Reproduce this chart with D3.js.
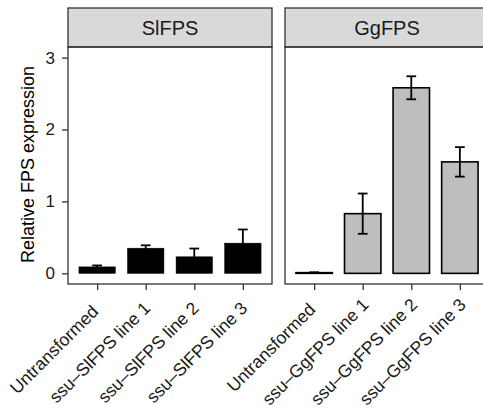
<!DOCTYPE html>
<html>
<head>
    <script src="https://d3js.org/d3.v7.min.js"></script>
    <style>
        body { margin: 0; background: #fff; }
        text { font-family: "Liberation Sans", Arial, sans-serif; }
    </style>
</head>
<body>
<script>
    // data
    var slCategories = ["Untransformed", "ssu\u2013SlFPS line 1", "ssu\u2013SlFPS line 2", "ssu\u2013SlFPS line 3"];
    var slValues = [0.09, 0.35, 0.23, 0.42];
    var slErrors = [0.02, 0.04, 0.115, 0.19];

    var ggCategories = ["Untransformed", "ssu\u2013GgFPS line 1", "ssu\u2013GgFPS line 2", "ssu\u2013GgFPS line 3"];
    var ggValues = [0.01, 0.83, 2.58, 1.55];
    var ggErrors = [0.005, 0.28, 0.16, 0.205];

    var panelNames = ["SlFPS", "GgFPS"];
    var yTicks = [0, 1, 2, 3];

    var width = 483, height = 409;
    var plotTop = 47, plotBottom = 284, stripTop = 8;
    var panelW = 204;
    var panelX = [68, 285];

    var svg = d3.select("body").append("svg")
        .attr("width", width)
        .attr("height", height);

    var y = d3.scaleLinear().domain([-0.148, 3.147]).range([plotBottom, plotTop]);

    var panels = [
        { name: panelNames[0], cats: slCategories, vals: slValues, errs: slErrors, fill: "#000000" },
        { name: panelNames[1], cats: ggCategories, vals: ggValues, errs: ggErrors, fill: "#bebebe" }
    ];

    panels.forEach(function (p, pi) {
        var x0 = panelX[pi];
        var x = d3.scalePoint().domain(p.cats).range([x0, x0 + panelW]).padding(0.6);
        var bw = x.step() * 0.75;
        var cw = x.step() * 0.2;
        var g = svg.append("g");
        var rows = p.cats.map(function (c, i) { return { c: c, v: p.vals[i], e: p.errs[i] }; });

        // strip
        g.append("rect")
            .attr("x", x0).attr("y", stripTop)
            .attr("width", panelW).attr("height", plotTop - stripTop)
            .attr("fill", "#d9d9d9").attr("stroke", "#333").attr("stroke-width", 1.3);
        g.append("text")
            .attr("x", x0 + panelW / 2).attr("y", (stripTop + plotTop) / 2)
            .attr("dy", "0.36em")
            .attr("text-anchor", "middle")
            .attr("font-size", 20)
            .attr("fill", "#1a1a1a")
            .text(p.name);

        // bars
        g.selectAll("rect.bar").data(rows).enter().append("rect")
            .attr("class", "bar")
            .attr("x", function (d) { return x(d.c) - bw / 2; })
            .attr("y", function (d) { return y(d.v); })
            .attr("width", bw)
            .attr("height", function (d) { return y(0) - y(d.v); })
            .attr("fill", p.fill)
            .attr("stroke", "#000")
            .attr("stroke-width", pi == 0 ? 0.5 : 1.6);

        // error bars
        var eb = g.selectAll("g.err").data(rows).enter().append("g").attr("class", "err")
            .attr("stroke", "#000").attr("stroke-width", 1.8);
        eb.append("line")
            .attr("x1", function (d) { return x(d.c); })
            .attr("x2", function (d) { return x(d.c); })
            .attr("y1", function (d) { return y(d.v - d.e); })
            .attr("y2", function (d) { return y(d.v + d.e); });
        eb.append("line")
            .attr("x1", function (d) { return x(d.c) - cw / 2; })
            .attr("x2", function (d) { return x(d.c) + cw / 2; })
            .attr("y1", function (d) { return y(d.v + d.e); })
            .attr("y2", function (d) { return y(d.v + d.e); });
        eb.append("line")
            .attr("x1", function (d) { return x(d.c) - cw / 2; })
            .attr("x2", function (d) { return x(d.c) + cw / 2; })
            .attr("y1", function (d) { return y(d.v - d.e); })
            .attr("y2", function (d) { return y(d.v - d.e); });

        // panel border
        g.append("rect")
            .attr("x", x0).attr("y", plotTop)
            .attr("width", panelW).attr("height", plotBottom - plotTop)
            .attr("fill", "none").attr("stroke", "#333").attr("stroke-width", 1.3);

        // x axis
        var xa = g.append("g").attr("transform", "translate(0," + plotBottom + ")")
            .call(d3.axisBottom(x).tickSize(6).tickFormat(""));
        xa.select(".domain").remove();
        xa.selectAll("line").attr("stroke", "#333").attr("stroke-width", 1.3);

        // rotated labels, anchored at a fraction of their length
        var hj = 0.74;
        g.selectAll("text.xl").data(p.cats).enter().append("text")
            .attr("class", "xl")
            .attr("transform", function (d) { return "translate(" + (x(d) - 19) + "," + (334 - pi * 2) + ") rotate(-45)"; })
            .attr("text-anchor", "start")
            .attr("font-size", 17.6)
            .attr("fill", "#1a1a1a")
            .text(function (d) { return d; })
            .attr("x", function () { return -hj * this.getComputedTextLength(); });

        if (pi == 0) {
            var ya = g.append("g").attr("transform", "translate(" + x0 + ",0)")
                .call(d3.axisLeft(y).tickValues(yTicks).tickFormat(d3.format("d")).tickSize(6).tickPadding(7));
            ya.select(".domain").remove();
            ya.selectAll("line").attr("stroke", "#333").attr("stroke-width", 1.3);
            ya.selectAll("text").attr("font-size", 17).attr("fill", "#1a1a1a")
                .attr("font-family", "Liberation Sans, Arial, sans-serif");
        }
    });

    svg.append("text")
        .attr("transform", "translate(28," + ((plotTop + plotBottom) / 2 - 1) + ") rotate(-90)")
        .attr("dy", "0.36em")
        .attr("text-anchor", "middle")
        .attr("font-size", 18)
        .attr("fill", "#000")
        .text("Relative FPS expression");
</script>
</body>
</html>
